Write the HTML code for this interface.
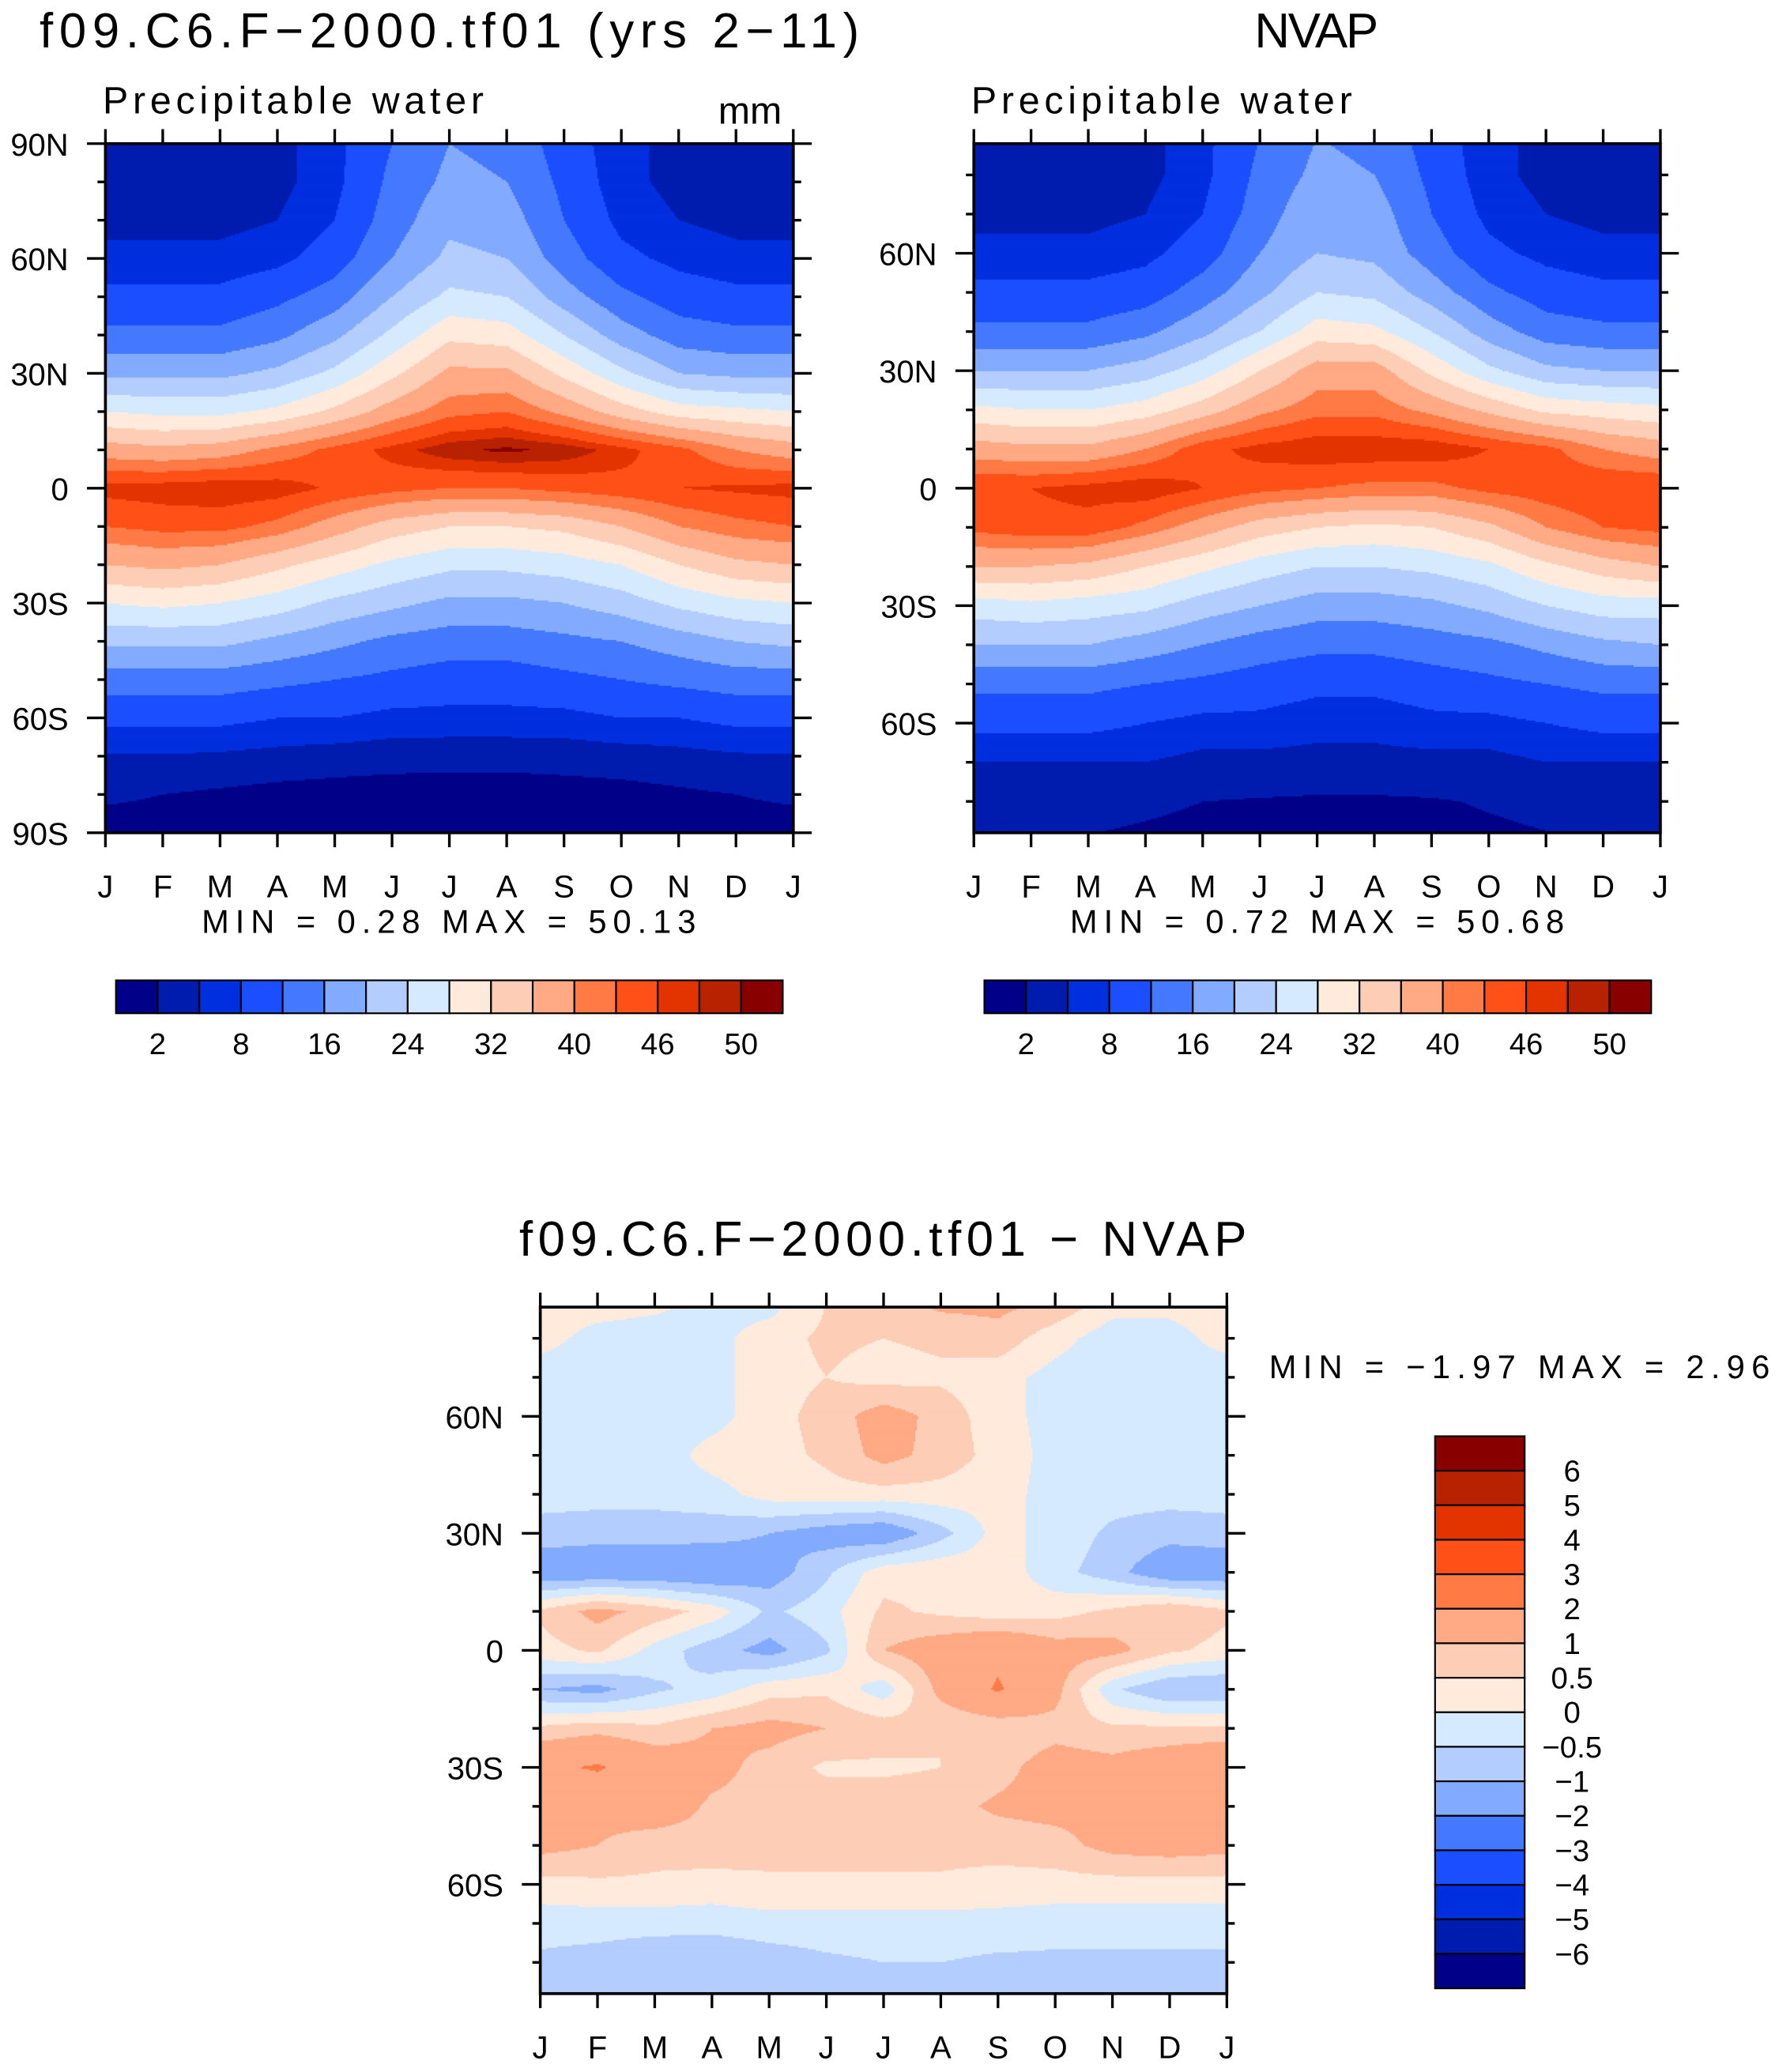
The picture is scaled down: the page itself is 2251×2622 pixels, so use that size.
<!DOCTYPE html>
<html><head><meta charset="utf-8">
<style>
html,body{margin:0;padding:0;background:#fff;}
svg{display:block;font-family:"Liberation Sans",sans-serif;}
</style></head>
<body>
<svg id="fig" xmlns="http://www.w3.org/2000/svg" width="2251" height="2622" viewBox="0 0 1350 1572.5">
<rect width="1350" height="1572.5" fill="#fff"/>
<g id="layer"></g>
</svg>
<script>
// ---------- DATA ----------
const months = ['J','F','M','A','M','J','J','A','S','O','N','D','J'];
const lats = [90,80,70,60,50,40,30,20,10,0,-10,-20,-30,-40,-50,-60,-70,-80,-90];
const pwLevels = [2,5,8,12,16,20,24,28,32,36,40,43,46,48,50];
const pwLabels = ['2','8','16','24','32','40','46','50'];
const diffLevels = [-6,-5,-4,-3,-2,-1,-0.5,0,0.5,1,2,3,4,5,6];
const diffLabels = ['-6','-5','-4','-3','-2','-1','-0.5','0','0.5','1','2','3','4','5','6'];
const palette = ['#000088','#001caf','#002fdf','#1b4eff','#4479ff','#82aaff','#b3cdff','#d6eaff','#ffeadb','#fecdb5','#ffa985','#ff7a45','#ff5018','#e33400','#b82200','#880000'];
const modelPW = [
[3,3,3,4,7,12,16,15,10,6,4,3],
[3,3,3,4,7,13,17,16,11,6,4,3],
[4,4,4,5,8,14,19,18,12,7,5,4],
[6,6,6,7,10,16,21,20,14,9,7,6],
[9,9,9,11,14,20,25,24,18,13,10,9],
[13,13,13,15,19,25,31,30,24,18,14,13],
[19,19,19,21,25,31,37,37,31,25,20,19],
[28,27,27,29,33,38,42,43,39,34,30,29],
[38,37,38,41,44,47,49.5,50.5,49.5,47,44,40],
[47,47.5,48,47.5,45.5,44,43,43,44,45,46,46.5],
[43,44,44,42,38,34,32,32,33,36,40,42],
[36,37,36,33,30,27,25,25,26,28,32,35],
[28,29,28,26,23,21,19,19,20,22,25,27],
[21,21,21,19,17,15,14,14,15,16,18,20],
[14,14,14,13,12,11,10,10,11,12,13,14],
[9,9,9,8,8,7,7,7,7,8,8,9],
[4.8,4.8,4.5,4,3.5,3.2,3,3,3.2,3.5,4,4.6],
[2.2,2,1.5,1,0.8,0.6,0.6,0.6,0.8,1,1.5,2],
[1.5,1.5,1.2,0.8,0.5,0.4,0.3,0.3,0.5,0.8,1.2,1.5]];
const nvapPW = [
[3,3,3,4,7,12,16,15,10,6,4,3],
[3,3,3,4,7,13,17,16,11,6,4,3],
[4,4,4,5,8,14,19,18,12,7,5,4],
[6,6,6,7,10,16,20,19,14,9,7,6],
[9,9,9,10,14,19,24,23,18,13,10,9],
[13,13,13,15,19,24,30,29,24,18,14,13],
[20,20,20,22,26,32,38,38,31,25,21,20],
[29,28,28,30,34,39,42,42,39,35,31,30],
[38,37,37,40,45,47,48,48,48,46,44,40],
[46,46,47,48,46,44,43,42,42,44,45,46],
[44,45,45,42,38,34,32,31,32,35,40,43],
[36,36,35,32,29,26,24,24,25,27,31,34],
[26,27,26,25,22,20,18,18,19,21,24,26],
[20,20,20,18,16,14,13,13,14,15,17,19],
[13,13,13,12,11,10,9,9,10,11,12,13],
[9,9,9,8,7,7,6,6,7,7,8,9],
[5,5,5,5,4,4,4,4,4,4,5,5],
[3,3,3,2.5,2,1.8,1.6,1.6,1.8,2.2,2.6,3],
[2,2,1.8,1.5,1.2,1,1,1,1.2,1.5,1.8,2]];
const diffPW = [
[0.3,0.3,0.2,-0.2,-0.3,0.5,0.8,1.2,1.2,1.0,0.3,0.2],
[0.2,-0.2,-0.3,-0.2,0.3,0.6,0.5,0.6,0.8,0.2,-0.3,-0.2],
[-0.3,-0.3,-0.2,-0.2,0.3,0.5,0.3,0.4,0.2,-0.2,-0.3,-0.3],
[-0.3,-0.3,-0.3,-0.2,0.3,0.7,1.3,0.8,0.2,-0.2,-0.3,-0.3],
[-0.3,-0.3,-0.3,0.2,0.3,0.6,1.2,0.8,0.3,-0.2,-0.3,-0.3],
[-0.3,-0.3,-0.3,-0.2,0.2,0.3,0.3,0.3,0.2,-0.2,-0.3,-0.3],
[-0.7,-0.8,-0.8,-0.8,-1.0,-1.3,-1.5,-0.7,0.2,-0.2,-0.6,-0.8],
[-1.5,-1.5,-1.5,-1.6,-1.3,-0.6,0.3,0.4,0.3,-0.3,-0.8,-1.5],
[0.6,1.2,0.8,0.3,-0.6,-0.2,0.6,0.4,0.2,0.3,0.6,1.0],
[0.3,0.6,-0.2,-0.8,-1.2,-0.6,1.0,1.4,1.8,1.3,1.2,0.6],
[-1.0,-1.2,-0.6,-0.3,0.3,0.4,-0.3,1.2,2.1,1.2,-0.4,-1.0],
[0.6,0.8,0.6,1.0,1.2,1.0,0.8,0.5,0.6,0.8,0.6,0.6],
[1.8,2.1,1.5,1.2,0.8,0.4,0.4,0.5,0.8,1.3,1.2,1.5],
[1.0,1.2,1.4,0.9,0.8,0.8,0.8,0.8,1.1,1.2,1.2,1.5],
[1.2,1.0,0.7,0.8,0.7,0.7,0.7,0.7,0.7,0.8,1.2,1.3],
[0.3,0.4,0.4,0.3,0.4,0.4,0.4,0.4,0.3,0.3,0.3,0.3],
[-0.3,-0.3,-0.3,-0.3,-0.2,-0.2,-0.2,-0.2,-0.2,-0.3,-0.3,-0.3],
[-0.6,-0.7,-0.9,-1.0,-0.8,-0.6,-0.5,-0.5,-0.6,-0.6,-0.6,-0.6],
[-0.6,-0.6,-0.6,-0.6,-0.6,-0.6,-0.6,-0.6,-0.6,-0.6,-0.6,-0.6]];

// ---------- DRAWING ----------
const NS='http://www.w3.org/2000/svg';
const layer=document.getElementById('layer');
function mk(tag,attrs,parent){const e=document.createElementNS(NS,tag);for(const k in attrs)e.setAttribute(k,attrs[k]);(parent||layer).appendChild(e);return e;}
function txt(s,x,y,size,anchor,parent,len){const a={x:x,y:y,'font-size':size,'text-anchor':anchor||'start',fill:'#000'};if(len){a.textLength=len;a.lengthAdjust='spacing';}const t=mk('text',a,parent);t.textContent=s.replace(/-/g,'\u2212');return t;}
function levelIndex(v,levels){let i=0;while(i<levels.length&&v>=levels[i])i++;return i;}
function sample(data,m,lat){
  m=Math.max(0,Math.min(12,m));
  lat=Math.max(-90,Math.min(90,lat));
  const mi=Math.min(Math.floor(m),11), fm=m-mi;
  const c0=mi%12, c1=(mi+1)%12;
  const r=(90-lat)/10; const ri=Math.max(0,Math.min(Math.floor(r),17)); const fr=r-ri;
  const a=data[ri][c0]*(1-fm)+data[ri][c1]*fm;
  const b=data[ri+1][c0]*(1-fm)+data[ri+1][c1]*fm;
  return a*(1-fr)+b*fr;
}
function panel(cfg){
  const g=mk('g',{});
  
  
  const {x0,y0,w,h,latTop,latBot}=cfg;
  const xScale=m=>x0+m*w/12;
  const yScale=lat=>y0+(latTop-lat)/(latTop-latBot)*h;
  const field=mk('g',{},g);
  
  
  const ny=Math.round(h/1.2), nx=Math.round(w/1.2);
  const sy=h/ny, sx=w/nx;
  for(let j=0;j<ny;j++){
    const y=y0+j*sy;
    const lat=latTop-(j+0.5)/ny*(latTop-latBot);
    let start=0, cur=-1;
    for(let i=0;i<=nx;i++){
      let c=-2;
      if(i<nx){c=levelIndex(sample(cfg.data,(i+0.5)/nx*12,lat),cfg.levels);}
      if(c!==cur){
        if(cur>=0){
          const xe=x0+i*sx;const xs=x0+start*sx;
          const hh=(j===ny-1)?sy:sy+0.5;
          const ww=(i===nx)?(xe-xs):(xe-xs+0.5);
          mk('rect',{x:xs.toFixed(2),y:y.toFixed(2),width:ww.toFixed(2),height:hh.toFixed(2),fill:palette[cur]},field);
        }
        start=i;cur=c;
      }
    }
  }
  mk('rect',{x:x0,y:y0,width:w,height:h,fill:'none',stroke:'#000','stroke-width':2.2},g);
  for(let i=0;i<13;i++){
    const x=xScale(i);
    mk('line',{x1:x,y1:y0,x2:x,y2:y0-11,stroke:'#000','stroke-width':2},g);
    mk('line',{x1:x,y1:y0+h,x2:x,y2:y0+h+11,stroke:'#000','stroke-width':2},g);
    const t=txt(months[i],x,y0+h+49,24,'middle',g);
    
    
  }
  for(let lat=-90;lat<=90;lat+=10){
    if(lat>latTop||lat<latBot)continue;
    const y=yScale(lat);const major=lat%30===0;const L=major?14:6;
    mk('line',{x1:x0,y1:y,x2:x0-L,y2:y,stroke:'#000','stroke-width':2},g);
    mk('line',{x1:x0+w,y1:y,x2:x0+w+L,y2:y,stroke:'#000','stroke-width':2},g);
    if(major){
      const lab=lat===0?'0':(Math.abs(lat)+(lat>0?'N':'S'));
      const t=txt(lab,x0-28,y+9,24,'end',g);
      
      
    }
  }
  return g;
}
function hbar(x0,y0,w,h,name){
  const g=mk('g',{});
  
  
  const bw=w/16;
  for(let i=0;i<16;i++){mk('rect',{x:x0+i*bw,y:y0,width:bw,height:h,fill:palette[i],stroke:'#000','stroke-width':1.3},g);}
  for(let j=0;j<pwLabels.length;j++){
    const t=txt(pwLabels[j],x0+(2*j+1)*bw,y0+h+31,23,'middle',g);
    
    
  }
}
panel({name:'model-panel',x0:80,y0:109,w:522,h:523,latTop:90,latBot:-90,data:modelPW,levels:pwLevels});
let t;
t=txt('f09.C6.F-2000.tf01 (yrs 2-11)',30,36,37,'start',null,622);


t=txt('Precipitable  water',78,86,29,'start',null,289);


t=txt('mm',545,94,29);


t=txt('MIN  =      0.28  MAX  =     50.13',153,708,25,'start',null,375);


hbar(88,744,506,25,'model-colorbar');
panel({name:'nvap-panel',x0:739,y0:109,w:521,h:523,latTop:88,latBot:-88,data:nvapPW,levels:pwLevels});
t=txt('NVAP',999,36,37,'middle',null,94);


t=txt('Precipitable  water',737,86,29,'start',null,289);


t=txt('MIN  =      0.72  MAX  =     50.68',812,708,25,'start',null,375);


hbar(747,744,506,25,'nvap-colorbar');
panel({name:'difference-panel',x0:410,y0:992,w:521,h:521,latTop:88,latBot:-88,data:diffPW,levels:diffLevels});
t=txt('f09.C6.F-2000.tf01  -  NVAP',670,953,37,'middle',null,552);


t=txt('MIN  =    -1.97  MAX  =      2.96',963,1046,25,'start',null,380);


(function(){
  const g=mk('g',{});
  
  
  const x0=1089,y0=1090,w=68,h=419,bh=h/16;
  for(let i=0;i<16;i++){mk('rect',{x:x0,y:y0+i*bh,width:w,height:bh,fill:palette[15-i],stroke:'#000','stroke-width':1.3},g);}
  for(let j=0;j<diffLabels.length;j++){
    const k=diffLabels.length-1-j;
    const tt=txt(diffLabels[k],1193,y0+(j+1)*bh+8,23,'middle',g);
    
    
  }
})();
</script>
</body></html>
